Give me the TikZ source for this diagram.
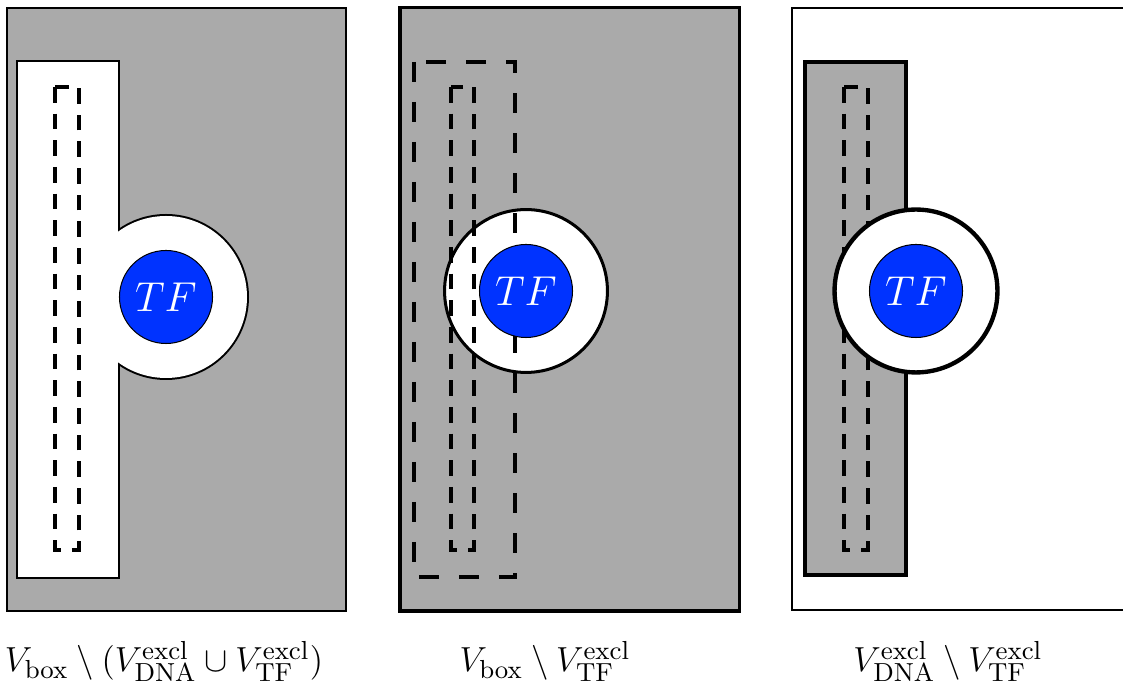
\documentclass[tikz,border=0pt]{standalone}
\definecolor{boxgray}{RGB}{170,170,170}
\definecolor{tfblue}{RGB}{0,51,255}
\begin{document}
\begin{tikzpicture}[x=0.345pt,y=-0.345pt,
  boxframe/.style={draw=black,fill=boxgray},
  coredash/.style={draw=black,line width=1.05pt,dash pattern=on 5.4pt off 3.8pt},
  slabdash/.style={draw=black,line width=1.35pt,dash pattern=on 6.9pt off 6.9pt},
  excl/.style={circle,draw=black,fill=white,inner sep=0pt,minimum size=56.2pt},
  tf/.style={circle,draw=black,fill=tfblue,line width=0.35pt,inner sep=0pt,
             minimum size=32.1pt,text=white,font=\Large},
  caption/.style={anchor=base,font=\fontsize{12.3}{15}\selectfont}]
\path[use as bounding box] (0,0) rectangle (1123,688);

% --- V_box minus both exclusion volumes
\draw[boxframe,line width=0.69pt] (7,8) rectangle (346,611);
% outline of the DNA slab merged with the TF exclusion disc
\draw[line width=1.38pt] (18,62) rectangle (118,577);
\draw[line width=1.38pt] (166,297) circle[radius=81];
\fill[white] (18,62) rectangle (118,577);
\fill[white] (166,297) circle[radius=81];
\draw[coredash] (55,87) rectangle (79,550);
\node[tf] (tf1) at (166,297) {$TF$};
\node[caption] (cap1) at (164,672)
  {$V_{\mathrm{box}}\setminus(V^{\mathrm{excl}}_{\mathrm{DNA}}\cup V^{\mathrm{excl}}_{\mathrm{TF}})$};

% --- V_box minus the TF exclusion volume
\draw[boxframe,line width=1.04pt] (400,8) rectangle (739,611);
\node[excl,line width=1.04pt] (ex2) at (526,291) {};
\draw[slabdash] (414,62) rectangle (515,577);
\draw[coredash] (451,87) rectangle (474,550);
\node[tf] (tf2) at (526,291) {$TF$};
\node[caption] (cap2) at (545,672)
  {$V_{\mathrm{box}}\setminus V^{\mathrm{excl}}_{\mathrm{TF}}$};

% --- DNA exclusion volume minus the TF exclusion volume
\draw[line width=0.69pt] (1123,8) -- (792,8) -- (792,610) -- (1123,610);
\draw[boxframe,line width=1.38pt] (805,62) rectangle (906,575);
\draw[coredash] (844,87) rectangle (868,550);
\node[excl,line width=1.5pt] (ex3) at (916,291) {};
\node[tf] (tf3) at (916,291) {$TF$};
\node[caption] (cap3) at (948,672)
  {$V^{\mathrm{excl}}_{\mathrm{DNA}}\setminus V^{\mathrm{excl}}_{\mathrm{TF}}$};
\end{tikzpicture}
\end{document}
